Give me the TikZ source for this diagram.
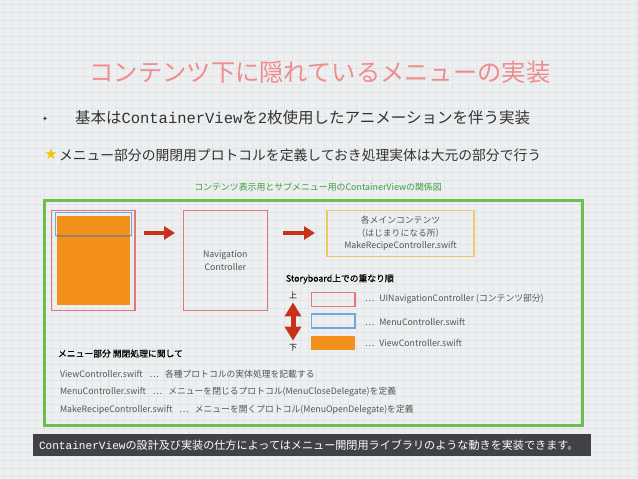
\documentclass[tikz,border=0pt]{standalone}
\usepackage{fontspec}
\setmainfont{Noto Sans CJK JP}
\newfontfamily\mono{Liberation Mono}
\newfontfamily\sym{DejaVu Sans}
\usetikzlibrary{arrows.meta,calc}
\definecolor{bgc}{HTML}{EDEFF1}
\definecolor{gridc}{HTML}{E2E5E8}
\definecolor{titlec}{HTML}{F08C8C}
\definecolor{textc}{HTML}{333333}
\definecolor{greyt}{HTML}{555555}
\definecolor{starc}{HTML}{F5C400}
\definecolor{greenc}{HTML}{3E9E3E}
\definecolor{boxgreen}{HTML}{6CBF4A}
\definecolor{pinkc}{HTML}{E07878}
\definecolor{orangec}{HTML}{F39019}
\definecolor{bluec}{HTML}{6FA8DC}
\definecolor{yellowc}{HTML}{F2C66A}
\definecolor{arrowc}{HTML}{C8321A}
\definecolor{barc}{HTML}{404246}
\tikzset{
  lbl/.style={inner sep=0pt, outer sep=0pt, font=\fontsize{8.8}{10}\selectfont, text=greyt},
  heading/.style={inner sep=0pt, outer sep=0pt, text=black, font=\fontsize{8.8}{10}\selectfont\addfontfeature{FakeBold=0.6}},
  bigarrow/.style={arrowc, line width=3.6pt, -{Triangle[length=11pt,width=13pt]}},
  dblarrow/.style={arrowc, line width=5pt, {Triangle[length=14pt,width=16pt]}-{Triangle[length=14pt,width=16pt]}},
  plain/.style={inner sep=0pt, outer sep=0pt},
}
\begin{document}
\begin{tikzpicture}[x=1pt,y=-1pt]
\useasboundingbox (0,0) rectangle (638,479);
\fill[bgc] (0,0) rectangle (638,479);
\foreach \x in {4,12,...,636} \draw[gridc, line width=0.4pt] (\x,0) -- (\x,479);
\foreach \y in {4,12,...,476} \draw[gridc, line width=0.4pt] (0,\y) -- (638,\y);

% title and bullets
\node[plain, text=titlec, font=\fontsize{24.3}{26}\selectfont] (title) at (320,72) {コンテンツ下に隠れているメニューの実装};
\node[plain, text=textc, font=\sym\fontsize{7}{7}\selectfont] (bul) at (45,119) {✦};
\node[plain, anchor=west, text=textc, font=\fontsize{15.5}{17}\selectfont] (l1) at (75,118) {基本は{\mono ContainerView}を{\mono 2}枚使用したアニメーションを伴う実装};
\node[plain, text=starc, font=\sym\fontsize{15}{15}\selectfont] (star) at (51,154) {★};
\node[plain, anchor=west, text=textc, font=\fontsize{13.8}{15}\selectfont] (l2) at (59,155) {メニュー部分の開閉用プロトコルを定義しておき処理実体は大元の部分で行う};
\node[plain, text=greenc, font=\fontsize{8.9}{10}\selectfont] (cap) at (318,187) {コンテンツ表示用とサブメニュー用のContainerViewの関係図};

% green frame
\node[plain, draw=boxgreen, line width=3pt, minimum width=538pt, minimum height=225pt] (frame) at (313,312.5) {};

% left container
\node[plain, draw=pinkc, line width=1.2pt, minimum width=83.3pt, minimum height=100pt] (lb) at (93.4,260.7) {};
\node[plain, fill=orangec, minimum width=73.3pt, minimum height=89.3pt] (lbfill) at (93.4,260.4) {};
\node[plain, draw=bluec, line width=1.1pt, minimum width=76.7pt, minimum height=23.4pt] (lbmenu) at (93.4,224) {};
\draw[color=gray!80!orange, line width=2.6pt] ($(lbmenu.south west)+(1.5,0.3)$) coordinate (gl) -- ($(lbmenu.south east)+(-1.5,0.3)$) coordinate (gr);

% navigation controller
\node[lbl, draw=pinkc, line width=1.2pt, minimum width=84pt, minimum height=100pt, align=center] (nav) at (225.3,260.7) {Navigation\\[3pt]Controller};

% yellow box
\node[lbl, draw=yellowc, line width=1.2pt, minimum width=147pt, minimum height=46pt, align=center] (ybox) at (400.5,233.7) {各メインコンテンツ\\[2.5pt]（はじまりになる所）\\[2.5pt]MakeRecipeController.swift};

% arrows
\coordinate (a1s) at (144,233);
\coordinate (a1e) at (175,233);
\coordinate (a2s) at (283,233);
\coordinate (a2e) at (315,233);
\draw[bigarrow] (a1s) -- (a1e);
\draw[bigarrow] (a2s) -- (a2e);

% storyboard legend
\node[heading, anchor=west] (sbt) at (286,279) {Storyboard上での重なり順};
\node[plain, text=black, font=\fontsize{8}{9}\selectfont] (up) at (293,295) {上};
\node[plain, text=black, font=\fontsize{8}{9}\selectfont] (down) at (293,348) {下};
\draw[dblarrow] ($(up.south)+(0,4)$) coordinate (d1) -- ($(down.north)+(0,-4)$) coordinate (d2);

\node[plain, draw=pinkc, line width=1.2pt, minimum width=43.3pt, minimum height=14pt] (lg1) at (333.3,299.7) {};
\node[plain, draw=bluec, line width=1.2pt, minimum width=43.3pt, minimum height=14pt] (lg2) at (333.3,321) {};
\node[plain, fill=orangec, minimum width=44pt, minimum height=14pt] (lg3) at (333.3,342.6) {};
\node[lbl, anchor=west] (lt1) at (365,299) {…\hspace{5pt}UINavigationController (コンテンツ部分)};
\node[lbl, anchor=west] (lt2) at (365,321.5) {…\hspace{5pt}MenuController.swift};
\node[lbl, anchor=west] (lt3) at (365,342.5) {…\hspace{5pt}ViewController.swift};

% lower notes
\node[heading, anchor=west] (nh) at (58,353.5) {メニュー部分 開閉処理に関して};
\node[lbl, anchor=west] (n1) at (60,374) {ViewController.swift\hspace{7pt}…\hspace{6pt}各種プロトコルの実体処理を記載する};
\node[lbl, anchor=west] (n2) at (60,392) {MenuController.swift\hspace{7pt}…\hspace{6pt}メニューを閉じるプロトコル(MenuCloseDelegate)を定義};
\node[lbl, anchor=west] (n3) at (60,410) {MakeRecipeController.swift\hspace{7pt}…\hspace{6pt}メニューを開くプロトコル(MenuOpenDelegate)を定義};

% bottom bar
\node[plain, fill=barc, minimum width=558pt, minimum height=22pt] (bar) at (312,445) {};
\node[plain, anchor=west, text=white, font=\fontsize{11.1}{12}\selectfont] (bart) at (39,445) {{\mono ContainerView}の設計及び実装の仕方によってはメニュー開閉用ライブラリのような動きを実装できます。};
\end{tikzpicture}
\end{document}
